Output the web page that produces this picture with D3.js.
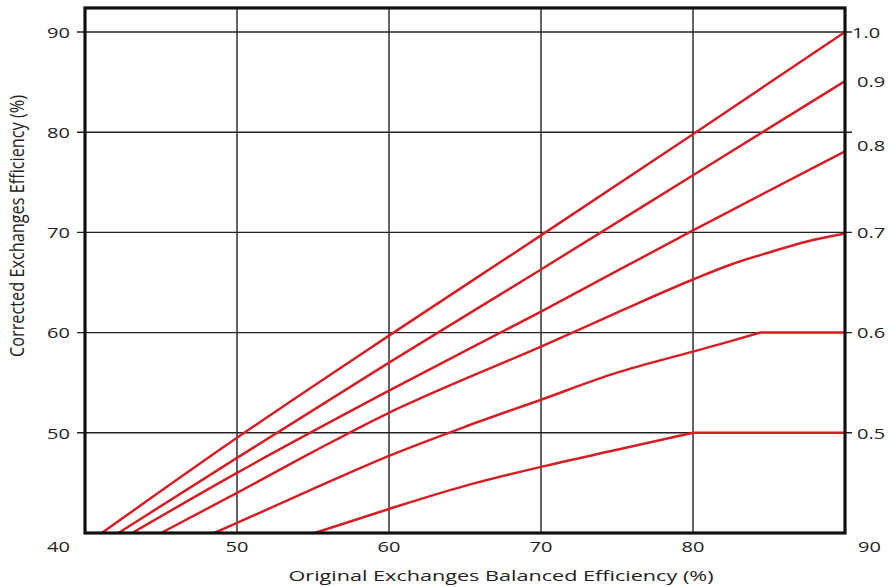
<!DOCTYPE html>
<html>
<head>
<meta charset="utf-8">
<script src="https://cdn.jsdelivr.net/npm/d3@7"></script>
<style>
  body { margin: 0; background: #fff; }
  text { font-family: "Open Sans", "Noto Sans", sans-serif; fill: #222; }
</style>
</head>
<body>
<svg id="chart" width="888" height="587"></svg>
<script>
// Axis ticks
const xTickValues = [50, 60, 70, 80];
const xTickLabels = [40, 50, 60, 70, 80, 90];
const yTickValues = [50, 60, 70, 80, 90];

// Curve names shown on the right edge, and the corrected efficiency they sit at
const curveNames = ["1.0", "0.9", "0.8", "0.7", "0.6", "0.5"];
const curveNamePos = [90, 85.1, 78.7, 70, 60, 50];

// Original balanced efficiency (x) vs corrected efficiency (y) for each curve
const orig10 = [41.1, 50, 60, 70, 80, 90];
const corr10 = [40, 49.5, 59.7, 69.7, 79.8, 90];
const orig09 = [42.2, 50, 60, 70, 80, 90];
const corr09 = [40, 47.5, 57.0, 66.3, 75.7, 85.1];
const orig08 = [43.1, 50, 60, 70, 80, 90];
const corr08 = [40, 46.0, 54.2, 62.1, 70.2, 78.1];
const orig07 = [45.0, 50, 55, 60, 63.5, 70, 75, 80, 82.5, 85, 87.5, 90];
const corr07 = [40, 44.0, 48.1, 52.0, 54.4, 58.6, 62.0, 65.3, 66.8, 68.0, 69.1, 69.9];
const orig06 = [48.5, 50, 55, 60, 65, 70, 75, 80, 82.6, 84.4, 90];
const corr06 = [40, 41.0, 44.4, 47.7, 50.6, 53.3, 56.0, 58.1, 59.2, 60, 60];
const orig05 = [55.1, 60, 65, 70, 75, 80, 90];
const corr05 = [40, 42.4, 44.7, 46.6, 48.3, 50, 50];

const curves = [
  [orig10, corr10], [orig09, corr09], [orig08, corr08],
  [orig07, corr07], [orig06, corr06], [orig05, corr05]
];

const svg = d3.select("#chart");
const x = d3.scaleLinear().domain([40, 90]).range([85, 845]);
const y = d3.scaleLinear().domain([40, 90]).range([533, 32]);
const yTop = 92.4;
const stretch = 1.38;

// text helper: horizontally widened labels
function label(g, tx, ty, str, anchor, size) {
  const t = g.append("g").attr("transform", `translate(${tx},${ty}) scale(${stretch},1)`);
  t.append("text")
    .attr("text-anchor", anchor)
    .attr("dominant-baseline", "central")
    .attr("font-size", size)
    .text(str);
}

// Grid
const grid = svg.append("g").attr("stroke", "#222").attr("stroke-width", 1.4);
grid.selectAll("line.v").data(xTickValues).join("line")
  .attr("class", "v")
  .attr("x1", d => x(d)).attr("x2", d => x(d))
  .attr("y1", y(yTop)).attr("y2", y(40));
grid.selectAll("line.h").data(yTickValues).join("line")
  .attr("class", "h")
  .attr("x1", x(40) - 8).attr("x2", x(90) + 7)
  .attr("y1", d => y(d)).attr("y2", d => y(d));

// Curves: smooth rising part, straight plateau where the value stops growing
const smooth = d3.line().x(d => x(d[0])).y(d => y(d[1])).curve(d3.curveMonotoneX);
const straight = d3.line().x(d => x(d[0])).y(d => y(d[1]));
function curvePath(c) {
  const pts = c[0].map((v, i) => [v, c[1][i]]);
  let k = pts.findIndex((p, i) => i < pts.length - 1 && p[1] === pts[i + 1][1]);
  if (k < 0) return smooth(pts);
  return smooth(pts.slice(0, k + 1)) + straight(pts.slice(k)).replace(/^M/, "L");
}
svg.append("g").selectAll("path")
  .data(curves)
  .join("path")
  .attr("d", curvePath)
  .attr("fill", "none")
  .attr("stroke", "#d81e25")
  .attr("stroke-width", 2.5)
  .attr("stroke-linejoin", "round");

// Frame
svg.append("rect")
  .attr("x", x(40)).attr("y", y(yTop))
  .attr("width", x(90) - x(40)).attr("height", y(40) - y(yTop))
  .attr("fill", "none").attr("stroke", "#111").attr("stroke-width", 3.2);

// Left axis labels
const labels = svg.append("g");
yTickValues.forEach(v => label(labels, 70, y(v), v, "end", 14.5));

// Bottom axis labels
xTickLabels.forEach(v => {
  if (v === 40) label(labels, 70, 546, v, "end", 14.5);
  else if (v === 90) label(labels, 858, 546, v, "start", 14.5);
  else label(labels, x(v), 546, v, "middle", 14.5);
});

// Right curve names
curveNames.forEach((n, i) => label(labels, i === 0 ? 852 : 857, y(curveNamePos[i]), n, "start", 14.5));

// Axis titles
svg.append("text")
  .attr("x", 501).attr("y", 581)
  .attr("text-anchor", "middle")
  .attr("font-size", 15)
  .attr("textLength", 425)
  .attr("lengthAdjust", "spacingAndGlyphs")
  .text("Original Exchanges Balanced Efficiency (%)");

svg.append("g")
  .attr("transform", `translate(24,226) scale(${stretch},1) rotate(-90)`)
  .append("text")
  .attr("text-anchor", "middle")
  .attr("font-size", 14)
  .attr("textLength", 262)
  .attr("lengthAdjust", "spacingAndGlyphs")
  .text("Corrected Exchanges Efficiency (%)");
</script>
</body>
</html>
